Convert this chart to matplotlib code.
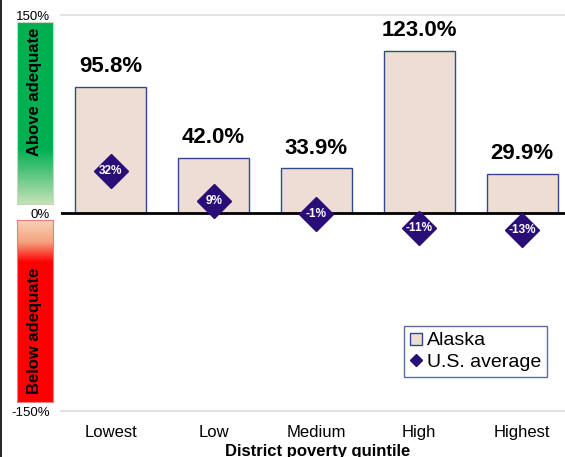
import matplotlib
matplotlib.use("Agg")
import matplotlib.pyplot as plt
import numpy as np
from matplotlib.lines import Line2D
from matplotlib.colors import LinearSegmentedColormap

plt.rcParams['font.family'] = ['Liberation Sans', 'DejaVu Sans']

categories = ["Lowest", "Low", "Medium", "High", "Highest"]
alaska = [95.8, 42.0, 33.9, 123.0, 29.9]
us_avg = [32, 9, -1, -11, -13]
alaska_labels = ["95.8%", "42.0%", "33.9%", "123.0%", "29.9%"]
us_labels = ["32%", "9%", "-1%", "-11%", "-13%"]
yticks = [-150, 0, 150]
ytick_labels = ["-150%", "0%", "150%"]

W, H = 565, 457
fig = plt.figure(figsize=(W / 100, H / 100), dpi=100)

# main axes
ax_left, ax_right = 61, 575
ax_top, ax_bot = 15, 411
ax = fig.add_axes([ax_left / W, (H - ax_bot) / H, (ax_right - ax_left) / W, (ax_bot - ax_top) / H])
x = np.arange(len(categories))
bar_fill = "#EEDDD4"
bar_edge = "#2F4A8A"
dia = "#2A0E78"
ax.bar(x - 0.015, alaska, width=0.69, color=bar_fill, edgecolor=bar_edge, linewidth=1.0, zorder=2, label="Alaska")
ax.axhline(0, color="black", lw=2, zorder=3)
for yv in (150, -150):
    ax.axhline(yv, color="#E3E3E3", lw=1.5, zorder=1, clip_on=False)
ax.plot(x - 0.015, us_avg, linestyle="none", marker="D", markersize=17, color=dia, zorder=4)
for xi, v, lab in zip(x - 0.015, alaska, alaska_labels):
    ax.text(xi, v + 7, lab, ha="center", va="bottom", fontsize=16, fontweight="bold", zorder=5)
for xi, v, lab in zip(x - 0.015, us_avg, us_labels):
    ax.text(xi, v, lab, ha="center", va="center", fontsize=8.5, color="white", fontweight="bold", zorder=6)
ax.set_xlim(-0.5, 4.5)
ax.set_ylim(-150, 150)
ax.set_yticks(yticks)
ax.set_yticklabels(ytick_labels, fontsize=9.5)
ax.set_xticks(x - 0.015)
ax.set_xticklabels(categories, fontsize=12)
ax.tick_params(axis="both", length=0)
ax.tick_params(axis="y", pad=8)
ax.tick_params(axis="x", pad=10)
for s in ax.spines.values():
    s.set_visible(False)
ax.set_xlabel("District poverty quintile", fontsize=12, fontweight="bold", labelpad=3)

handles = [
    Line2D([], [], linestyle="none", marker="s", markersize=8, markerfacecolor=bar_fill,
           markeredgecolor=bar_edge, markeredgewidth=1.0),
    Line2D([], [], linestyle="none", marker="D", markersize=6.5, color=dia),
]
leg = fig.legend(handles, ["Alaska", "U.S. average"], loc="upper left",
                 bbox_to_anchor=(404 / W, 1 - 326 / H), fontsize=14, frameon=True,
                 fancybox=False, edgecolor=bar_edge, handlelength=0.6, handletextpad=0.3,
                 borderpad=0.3, labelspacing=0.2, borderaxespad=0)
leg.get_frame().set_linewidth(1.0)

# gradient side bars
gx0, gw = 17, 36
green_cmap = LinearSegmentedColormap.from_list("g", [(0, "#00B050"), (0.7, "#00B050"), (1.0, "#C4E2B6")])
ag = fig.add_axes([gx0 / W, (H - 204) / H, gw / W, 182 / H])
ag.imshow(np.linspace(0, 1, 256).reshape(-1, 1), aspect="auto", cmap=green_cmap, extent=(0, 1, 0, 1), origin="upper")
ag.set_xlim(0, 1); ag.set_ylim(0, 1)
ag.set_xticks([]); ag.set_yticks([])
for s in ag.spines.values():
    s.set_color("#C8D8C0"); s.set_linewidth(0.8)
ag.text(0.5, 1 - (92 - 22) / 182, "Above adequate", rotation=90, ha="center", va="center",
        fontsize=12, fontweight="bold", color="black")

red_cmap = LinearSegmentedColormap.from_list("r", [(0, "#F8D2B6"), (0.12, "#F3A27E"), (0.23, "#FF0000"), (1.0, "#FF0000")])
ar = fig.add_axes([gx0 / W, (H - 402) / H, gw / W, 182 / H])
ar.imshow(np.linspace(0, 1, 256).reshape(-1, 1), aspect="auto", cmap=red_cmap, extent=(0, 1, 0, 1), origin="upper")
ar.set_xlim(0, 1); ar.set_ylim(0, 1)
ar.set_xticks([]); ar.set_yticks([])
for s in ar.spines.values():
    s.set_color("#E08080"); s.set_linewidth(0.8)
ar.text(0.5, 1 - (331 - 220) / 182, "Below adequate", rotation=90, ha="center", va="center",
        fontsize=12, fontweight="bold", color="black")

fig.add_artist(Line2D([0.5 / W, 0.5 / W], [0, 1], color="black", lw=1.2, transform=fig.transFigure))

fig.savefig("out.png", dpi=100)
